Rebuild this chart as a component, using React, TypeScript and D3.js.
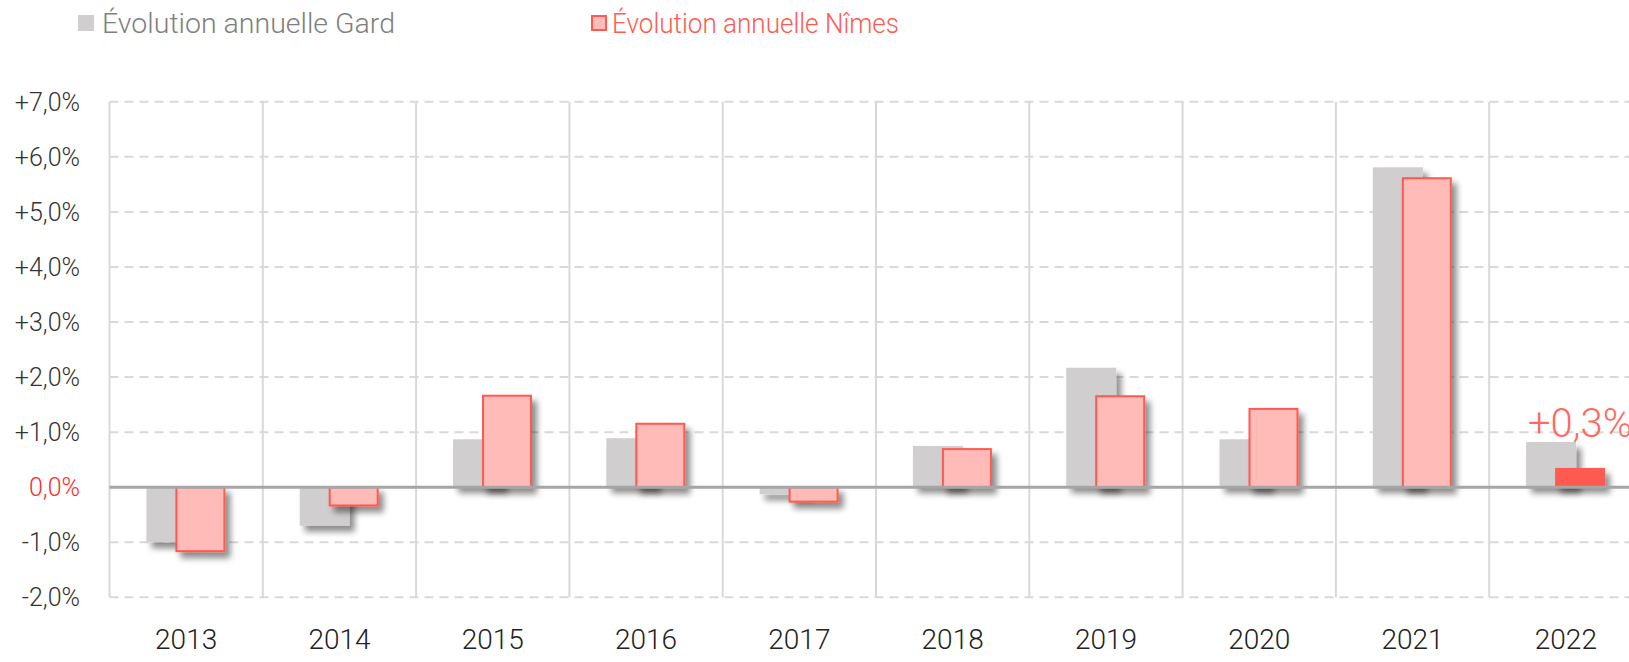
import React from 'react';
import * as d3 from 'd3';

const years = ['2013', '2014', '2015', '2016', '2017', '2018', '2019', '2020', '2021', '2022'];
const gard = [-1.0, -0.7, 0.87, 0.89, -0.13, 0.75, 2.17, 0.87, 5.81, 0.82];
const nimes = [-1.18, -0.35, 1.68, 1.17, -0.28, 0.71, 1.67, 1.44, 5.63, 0.35];
const yTicks = [-2, -1, 0, 1, 2, 3, 4, 5, 6, 7];
const lastLabel = '+0,3%';

const W = 1629, H = 662;
const FONT = 'Roboto, "Open Sans", sans-serif';

const fmt = (v: number) => (v > 0 ? '+' : v < 0 ? '-' : '') + Math.abs(v).toFixed(1).replace('.', ',') + '%';

export default function App() {
  React.useEffect(() => {
    document.body.style.margin = '0';
  }, []);

  const x = d3.scaleBand<string>().domain(years).range([109.5, 1642.5]).padding(0);
  const y = d3.scaleLinear().domain([-2, 7]).range([597.3, 101.8]);
  const bw = x.bandwidth();
  const barW = bw * 0.326;
  const gardOff = bw * 0.241;
  const nimesOff = bw * 0.43;
  const y0 = y(0);

  const bar = (v: number, xs: number) => ({
    x: xs,
    y: Math.min(y(v), y0),
    h: Math.abs(y(v) - y0),
  });

  return (
    <svg width={W} height={H} style={{ display: 'block', background: '#fff' }}>
      <defs>
        <filter id="shadow" x="-30%" y="-30%" width="170%" height="170%">
          <feGaussianBlur in="SourceAlpha" stdDeviation="3" />
          <feOffset dx="5" dy="6" result="b" />
          <feComponentTransfer>
            <feFuncA type="linear" slope="0.45" />
          </feComponentTransfer>
          <feMerge>
            <feMergeNode />
            <feMergeNode in="SourceGraphic" />
          </feMerge>
        </filter>
      </defs>

      {/* legend */}
      <rect x={78} y={15} width={16} height={16} fill="#d0cecf" />
      <text x={102} y={33} fontFamily={FONT} fontWeight={300} fontSize={27} fill="#7f7f7f"
        textLength={293} lengthAdjust="spacingAndGlyphs">Évolution annuelle Gard</text>
      <rect x={592} y={16} width={14} height={14} fill="#ffbbb8" stroke="#ff5a50" strokeWidth={2} />
      <text x={612} y={33} fontFamily={FONT} fontWeight={300} fontSize={27} fill="#ff5a50"
        textLength={287} lengthAdjust="spacingAndGlyphs">Évolution annuelle Nîmes</text>

      {/* grid */}
      {yTicks.filter(t => t !== 0).map(t => (
        <line key={t} x1={109.5} x2={W} y1={y(t)} y2={y(t)} stroke="#d9d9d9" strokeWidth={2} strokeDasharray="9,6" />
      ))}
      {years.slice(1).map(yr => (
        <line key={yr} x1={x(yr)!} x2={x(yr)!} y1={y(7)} y2={y(-2)} stroke="#d9d9d9" strokeWidth={2} />
      ))}
      <line x1={109.5} x2={109.5} y1={y(7)} y2={y(-2)} stroke="#d9d9d9" strokeWidth={2} />

      {/* y labels */}
      {yTicks.map(t => (
        <text key={t} x={80} y={y(t) + 9} textAnchor="end" fontFamily={FONT} fontWeight={300} fontSize={25}
          fill={t === 0 ? '#ff2a2a' : '#333'}>{fmt(t)}</text>
      ))}

      {/* x labels */}
      {years.map(yr => (
        <text key={yr} x={x(yr)! + bw / 2} y={649} textAnchor="middle" fontFamily={FONT} fontWeight={300} fontSize={28} fill="#222">{yr}</text>
      ))}

      {/* bars */}
      <g filter="url(#shadow)">
        {gard.map((v, i) => {
          const b = bar(v, x(years[i])! + gardOff);
          return <rect key={i} x={b.x} y={b.y} width={barW} height={b.h} fill="#d0cecf" />;
        })}
      </g>
      <g filter="url(#shadow)">
        {nimes.map((v, i) => {
          const b = bar(v, x(years[i])! + nimesOff);
          const last = i === nimes.length - 1;
          return last
            ? <rect key={i} x={b.x} y={b.y} width={barW} height={b.h} fill="#ff5a50" />
            : <rect key={i} x={b.x + 1} y={b.y + (v > 0 ? 1 : 0)} width={barW - 2} height={b.h - 1} fill="#ffbbb8" stroke="#ff5a50" strokeWidth={2} />;
        })}
      </g>

      <line x1={109.5} x2={W} y1={y0} y2={y0} stroke="#a6a6a6" strokeWidth={3} />

      <text x={x(years[9])! + nimesOff + barW / 2} y={437} textAnchor="middle" fontFamily={FONT} fontWeight={300} fontSize={40} fill="#ff6a60">{lastLabel}</text>
    </svg>
  );
}
